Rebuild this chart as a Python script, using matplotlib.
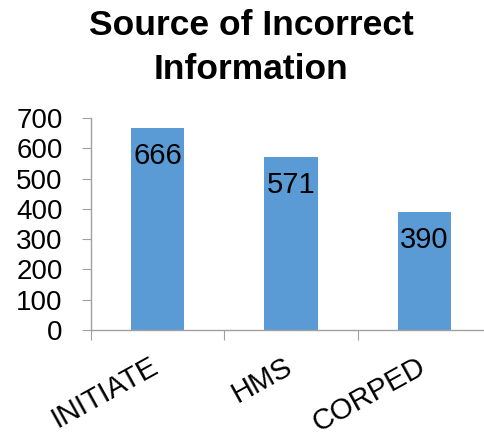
import matplotlib
matplotlib.use("Agg")
import matplotlib.pyplot as plt
from matplotlib.transforms import ScaledTranslation

categories = ["INITIATE", "HMS", "CORPED"]
values = [666, 571, 390]
yticks = [0, 100, 200, 300, 400, 500, 600, 700]

plt.rcParams['font.family'] = ['Liberation Sans', 'DejaVu Sans']

fig = plt.figure(figsize=(4.85, 4.38), dpi=100)
# axes from x=91 px to 491 px, y=0 at 330 px and 700 at 118 px
ax = fig.add_axes([91 / 485, (438 - 330) / 438, 400 / 485, 212 / 438])

bar_color = "#5B9BD5"
x = list(range(len(categories)))
ax.bar(x, values, width=0.4, color=bar_color, zorder=2)
for xi, v in zip(x, values):
    ax.text(xi, v - 45, str(v), ha="center", va="top", fontsize=21, color="black")

ax.set_xlim(-0.5, len(categories) - 0.5)
ax.set_ylim(0, 700)
ax.set_yticks(yticks)
ax.set_yticklabels([str(t) for t in yticks], fontsize=20)

# category boundary ticks on the x axis, names drawn as rotated text
ax.set_xticks([i - 0.5 for i in range(len(categories) + 1)])
ax.set_xticklabels([])
lab_tf = ax.get_xaxis_transform() + ScaledTranslation(-0.08, -0.22, fig.dpi_scale_trans)
for xi, name in zip(x, categories):
    ax.text(xi, 0, name, transform=lab_tf, fontsize=21, rotation=29,
            ha="right", va="top", rotation_mode="anchor", clip_on=False)
ax.tick_params(axis="x", which="major", length=7, color="#a0a0a0", direction="out")
ax.tick_params(axis="y", length=6.5, color="#a0a0a0", direction="out", pad=14)

for side in ["top", "right"]:
    ax.spines[side].set_visible(False)
for side in ["left", "bottom"]:
    ax.spines[side].set_color("#a0a0a0")
    ax.spines[side].set_linewidth(1)

fig.text(0.518, 0.98, "Source of Incorrect\nInformation", ha="center", va="top",
         fontsize=25.5, fontweight="bold", linespacing=1.42)

fig.savefig("out.png", dpi=100)
